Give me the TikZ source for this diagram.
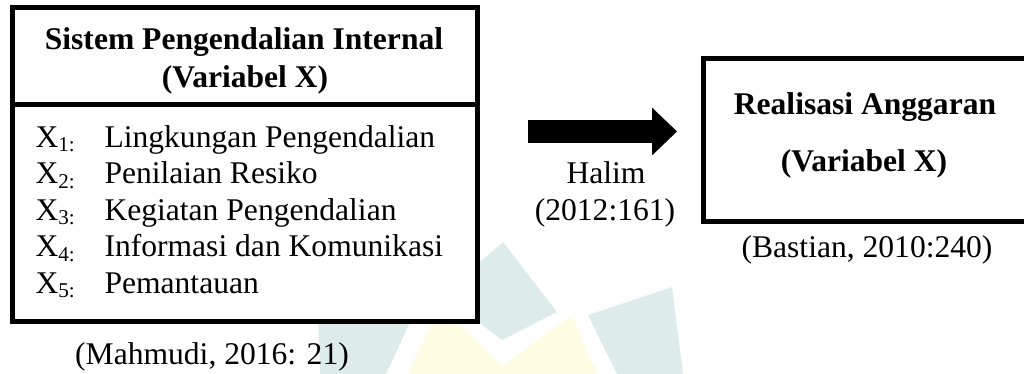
\documentclass[tikz,border=0pt]{standalone}
\usepackage{fontspec}
\setmainfont{Liberation Serif}
\usepackage{xcolor}
\usetikzlibrary{arrows.meta}

\definecolor{tosca}{RGB}{221,236,235}
\definecolor{kuningmuda}{RGB}{255,252,228}

\begin{document}
\begin{tikzpicture}[x=0.38pt, y=-0.38pt,
    every node/.style={font=\fontsize{12}{14}\selectfont, inner sep=0pt},
    kotak/.style={line width=1.9pt, fill=white},
    teks/.style={anchor=base},
    judul/.style={anchor=base, font=\fontsize{12}{14}\selectfont\bfseries},
    panah/.style={line width=8.7pt, -{Triangle[length=9.5pt, width=18.2pt, line width=0pt]}}]
		\useasboundingbox (0,0) rectangle (1024,374);
		\clip (0,0) rectangle (1024,374);
		% watermark di belakang
		\fill[tosca] (503,242) -- (557,312) -- (502,340) -- (442,295) -- cycle;
		\fill[tosca] (318,318) -- (412,318) -- (386,374) -- (320,374) -- cycle;
		\fill[kuningmuda] (408,374) -- (440,305) -- (502,366) -- (572,315) -- (597,374) -- cycle;
		\fill[tosca] (588,315) -- (672,287) -- (683,374) -- (617,374) -- cycle;
		
		\draw[kotak] (12.5,7.5) rectangle (477,321);
		\draw[line width=1.9pt] (12.5,104.5) -- (477,104.5);
		\node[judul] (judulspi) at (244,50) {Sistem Pengendalian Internal};
		\node[judul] (varspi) at (245,88) {(Variabel X)};
		\foreach \i/\isi in {1/Lingkungan Pengendalian, 2/Penilaian Resiko, 3/Kegiatan Pengendalian, 4/Informasi dan Komunikasi, 5/Pemantauan} {
		  \node[teks, anchor=base west] (x\i) at (35,{147+(\i-1)*36.5}) {X\textsubscript{\i:}};
		  \node[teks, anchor=base west] (ind\i) at (104,{147+(\i-1)*36.5}) {\isi};
		}
		\node[teks] (sumberspi) at (212,364) {(Mahmudi, 2016: 21)};
		
		\coordinate (pangkal) at (528,131.5);
		\coordinate (ujung) at (677,131.5);
		\draw[panah] (pangkal) -- (ujung);
		\node[teks] (halim) at (606,183) {Halim};
		\node[teks] (tahun) at (605,221) {(2012:161)};
		
		\draw[kotak] (703,58.5) rectangle (1030,221);
		\node[judul] (judulra) at (865,115) {Realisasi Anggaran};
		\node[judul] (varra) at (864,172) {(Variabel X)};
		\node[teks] (sumberra) at (867,257) {(Bastian, 2010:240)};
		
	\end{tikzpicture}
\end{document}
